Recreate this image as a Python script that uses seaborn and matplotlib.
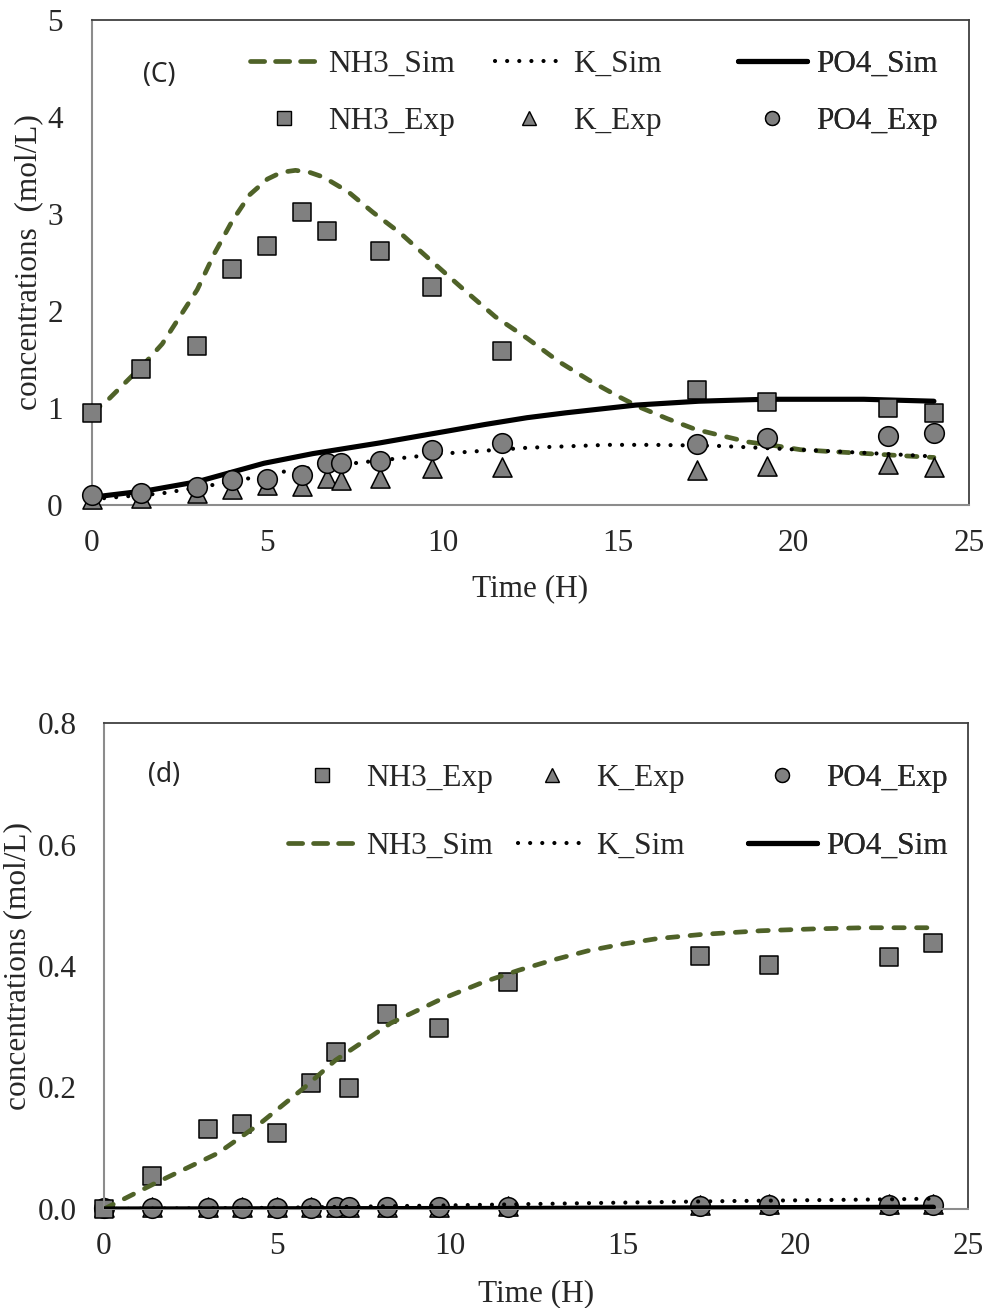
import numpy as np
import matplotlib
matplotlib.use("Agg")
import matplotlib.pyplot as plt
import seaborn as sns
from matplotlib.lines import Line2D

sns.set_theme(style="white")
plt.rcParams["font.family"] = ["Liberation Serif", "DejaVu Serif"]

nan = np.nan

# ---------------- data: panel (c) ----------------
t_exp = [0, 1.4, 3, 4, 5, 6, 6.7, 7.1, 8.2, 9.7, 11.7, 17.25, 19.25, 22.7, 24]
c_nh3_exp = [0.95, 1.40, 1.64, 2.43, 2.67, 3.02, 2.82, nan, 2.62, 2.25, 1.59, 1.19, 1.06, 1.00, 0.95]
c_k_exp = [0.06, 0.07, 0.12, 0.17, 0.21, 0.20, 0.28, 0.26, 0.28, 0.38, 0.39, 0.36, 0.40, 0.42, 0.39]
c_po4_exp = [0.10, 0.12, 0.19, 0.26, 0.27, 0.31, 0.43, 0.43, 0.45, 0.57, 0.64, 0.63, 0.69, 0.71, 0.74]

c_t_nh3_sim = [0, 0.5, 1, 1.5, 2, 2.5, 3, 3.5, 4, 4.5, 5, 5.4, 5.8, 6.2, 6.6, 7.3, 8, 8.8, 9.6,
               10.6, 11.5, 12.4, 13.3, 14.2, 15, 15.6, 16.4, 17.2, 18, 18.7, 19.5, 20.2, 21.1,
               22.1, 23, 24]
c_nh3_sim = [0.95, 1.10, 1.28, 1.46, 1.66, 1.94, 2.22, 2.60, 2.93, 3.20, 3.36, 3.43, 3.45, 3.43,
             3.38, 3.23, 3.02, 2.80, 2.54, 2.22, 1.94, 1.72, 1.48, 1.28, 1.12, 1.01, 0.89, 0.78,
             0.71, 0.65, 0.61, 0.57, 0.55, 0.53, 0.51, 0.49]
c_t_k_sim = [0, 2, 3.5, 4.7, 5.7, 7.7, 10, 12.4, 14.7, 16, 17.8, 20.2, 23, 24]
c_k_sim = [0.06, 0.12, 0.21, 0.29, 0.36, 0.44, 0.53, 0.59, 0.62, 0.62, 0.61, 0.57, 0.52, 0.50]
c_t_po4_sim = [0, 1.6, 3, 3.9, 4.9, 6.3, 8.2, 10.1, 11.2, 12.4, 13.5, 14.5, 15.5, 17.3, 19.2, 22, 24]
c_po4_sim = [0.08, 0.15, 0.24, 0.33, 0.43, 0.53, 0.64, 0.76, 0.83, 0.90, 0.95, 0.99, 1.03, 1.07,
             1.09, 1.09, 1.07]

# ---------------- data: panel (d) ----------------
d_nh3_exp = [0.0, 0.054, 0.132, 0.140, 0.125, 0.207, 0.258, 0.199, 0.321, 0.298, 0.373, 0.416, 0.402, 0.415, 0.438]
d_k_exp = [0.004, 0.004, 0.004, 0.004, 0.004, 0.004, 0.004, 0.004, 0.004, 0.004, 0.005, 0.007, 0.008, 0.008, 0.008]
d_po4_exp = [0.002, 0.002, 0.002, 0.002, 0.002, 0.002, 0.003, 0.003, 0.003, 0.003, 0.003, 0.005, 0.006, 0.006, 0.006]

d_t_nh3_sim = [0, 1.5, 3.3, 4.5, 5.8, 6.7, 8.3, 9.7, 11, 12, 13, 14, 15, 16, 17.3, 19, 20.5, 22, 24]
d_nh3_sim = [0.0, 0.043, 0.092, 0.14, 0.20, 0.245, 0.306, 0.344, 0.374, 0.393, 0.41, 0.425, 0.436,
             0.445, 0.452, 0.458, 0.461, 0.463, 0.463]
d_t_k_sim = [0, 5, 10, 14.4, 18, 22.8, 24]
d_k_sim = [0.0, 0.002, 0.006, 0.010, 0.013, 0.016, 0.017]
d_t_po4_sim = [0, 12, 24]
d_po4_sim = [0.0, 0.001, 0.003]

names = ["NH3", "K", "PO4"]

# ---------------- styles ----------------
GREEN = "#4f6228"
GREY = "#808080"
FS = 22.5
LW_DASH, LW_DOT, LW_SOLID = 3.4, 3.0, 3.7
dash_plot = (0, (2.2, 2.6))
dot_plot = (0, (0.01, 2.9))

fig = plt.figure(figsize=(9.87, 13.08), dpi=100)
ax1 = fig.add_axes([92 / 987, 1 - 505 / 1308, (969 - 92) / 987, (505 - 20) / 1308])
ax2 = fig.add_axes([104 / 987, 1 - 1209 / 1308, (968 - 104) / 987, (1209 - 723) / 1308])


def draw_sims(ax, tn, yn, tk, yk, tp, yp, z):
    sns.lineplot(x=tn, y=yn, ax=ax, color=GREEN, linewidth=LW_DASH, linestyle=dash_plot,
                 dash_capstyle="round", estimator=None, sort=False, zorder=z)
    sns.lineplot(x=tk, y=yk, ax=ax, color="black", linewidth=LW_DOT, linestyle=dot_plot,
                 dash_capstyle="round", estimator=None, sort=False, zorder=z)
    sns.lineplot(x=tp, y=yp, ax=ax, color="black", linewidth=LW_SOLID, linestyle="-",
                 solid_capstyle="round", estimator=None, sort=False, zorder=z)


def draw_exps(ax, yn, yk, yp, z):
    for y, m, s in ((yk, "^", 190), (yp, "o", 200), (yn, "s", 185)):
        sns.scatterplot(x=t_exp, y=y, ax=ax, marker=m, s=s, color=GREY, edgecolor="black",
                        linewidth=1.1, zorder=z, clip_on=False, legend=False)


draw_sims(ax1, c_t_nh3_sim, c_nh3_sim, c_t_k_sim, c_k_sim, c_t_po4_sim, c_po4_sim, 2)
draw_exps(ax1, c_nh3_exp, c_k_exp, c_po4_exp, 3)

draw_exps(ax2, d_nh3_exp, d_k_exp, d_po4_exp, 2)
draw_sims(ax2, d_t_nh3_sim, d_nh3_sim, d_t_k_sim, d_k_sim, d_t_po4_sim, d_po4_sim, 3)

# axes formatting
for ax in (ax1, ax2):
    ax.set_xlim(0, 25)
    ax.set_xticks([0, 5, 10, 15, 20, 25])
    for sp in ("left", "bottom"):
        ax.spines[sp].set_color("#8c8c8c")
        ax.spines[sp].set_linewidth(1.5)
    for sp in ("top", "right"):
        ax.spines[sp].set_color("#404040")
        ax.spines[sp].set_linewidth(1.3)
    ax.grid(False)

ax1.set_ylim(0, 5)
ax1.set_yticks([0, 1, 2, 3, 4, 5])
ax1.set_yticklabels(["0", "1", "2", "3", "4", "5"])
ax1.tick_params(axis="y", length=0, pad=21, labelsize=FS)
ax1.tick_params(axis="x", length=0, pad=17, labelsize=FS)
ax1.set_ylabel("concentrations  (mol/L)", fontsize=FS, labelpad=3)
ax1.set_xlabel("Time (H)", fontsize=FS, labelpad=12)

ax2.set_ylim(0, 0.8)
ax2.set_yticks([0, 0.2, 0.4, 0.6, 0.8])
ax2.set_yticklabels(["0.0", "0.2", "0.4", "0.6", "0.8"])
ax2.tick_params(axis="y", length=0, pad=19.5, labelsize=FS)
ax2.tick_params(axis="x", length=0, pad=16.5, labelsize=FS)
ax2.set_ylabel("concentrations (mol/L)", fontsize=FS, labelpad=4)
ax2.set_xlabel("Time (H)", fontsize=FS, labelpad=13)

ax1.text(143 / 987, 1 - 75 / 1308, "(C)", transform=fig.transFigure, fontsize=19,
         family=["Noto Sans", "DejaVu Sans"], ha="left", va="center")
ax2.text(148 / 987, 1 - 775 / 1308, "(d)", transform=fig.transFigure, fontsize=19,
         family=["Noto Sans", "DejaVu Sans"], ha="left", va="center")

# legend handles
sim_h = [
    Line2D([], [], color=GREEN, lw=LW_DASH, ls=(0, (3.0, 2.3)), dash_capstyle="round"),
    Line2D([], [], color="black", lw=LW_DOT, ls=(0, (0.01, 2.9)), dash_capstyle="round"),
    Line2D([], [], color="black", lw=LW_SOLID, ls="-"),
]
exp_h = [
    Line2D([], [], ls="none", marker=m, ms=10, mfc=GREY, mec="black", mew=1.0)
    for m in ("s", "^", "o")
]


def col_legend(ax, hs, ls, x, y, spacing):
    leg = ax.legend(hs, ls, loc="center left", bbox_to_anchor=(x, y),
                    bbox_transform=fig.transFigure, frameon=False, borderpad=0,
                    borderaxespad=0, handlelength=2.2, handletextpad=0.3,
                    labelspacing=spacing, fontsize=FS)
    ax.add_artist(leg)


top_x = [250 / 987, 495 / 987, 738 / 987]
for i, n in enumerate(names):
    col_legend(ax1, [sim_h[i], exp_h[i]], [n + "_Sim", n + "_Exp"], top_x[i], 1 - 92.5 / 1308, 0.9)

bot_x = [288 / 987, 518 / 987, 748 / 987]
for i, n in enumerate(names):
    col_legend(ax2, [exp_h[i], sim_h[i]], [n + "_Exp", n + "_Sim"], bot_x[i], 1 - 812.5 / 1308, 1.25)

fig.savefig("out.png", dpi=100)
